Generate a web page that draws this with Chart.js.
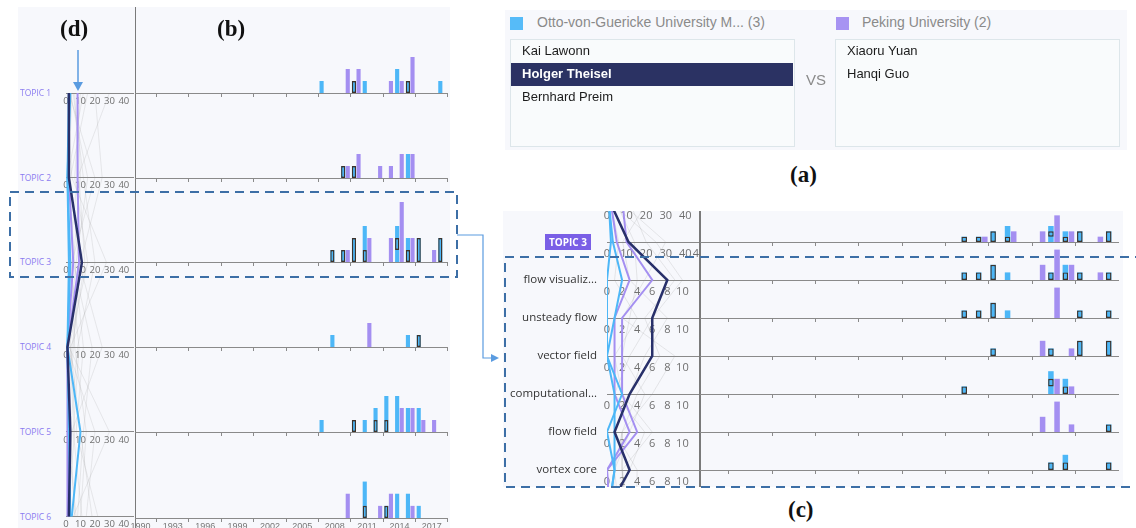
<!DOCTYPE html>
<html>
<head>
<meta charset="utf-8">
<script src="https://cdn.jsdelivr.net/npm/chart.js@4.4.1/dist/chart.umd.min.js"></script>
<style>
  body { margin: 0; width: 1136px; height: 528px; overflow: hidden; background: #fff; position: relative; font-family: "Open Sans", sans-serif; }
  .abs { position: absolute; }
  canvas { position: absolute; }
  .panel { position: absolute; background: #f7f8fc; }
  .cap { position: absolute; font-family: "Liberation Serif", serif; font-weight: bold; font-size: 23px; color: #111; }
  .topic { position: absolute; left: 20px; font-size: 8.5px; color: #8b7cf0; line-height: 12px; }
  .kw { position: absolute; right: 539px; font-size: 11.5px; color: #333; line-height: 14px; white-space: nowrap; }
  .leg { position: absolute; font-family: "Liberation Sans", Arial, sans-serif; font-size: 14px; color: #8a8a8a; }
  .box { position: absolute; border: 1px solid #dde6ea; background: #f9fbfc; }
  .name { position: absolute; font-family: "Liberation Sans", Arial, sans-serif; font-size: 13px; color: #1c1c1c; }
</style>
</head>
<body>

<!-- panel backgrounds -->
<div class="panel" style="left:18px;top:7px;width:432px;height:521px"></div>
<div class="panel" style="left:505px;top:10px;width:622px;height:140px"></div>
<div class="panel" style="left:503px;top:211px;width:620px;height:276px"></div>

<!-- axis separators -->
<div class="abs" style="left:134.5px;top:7px;width:1.5px;height:521px;background:#7a7a7a"></div>
<div class="abs" style="left:699px;top:211px;width:1.5px;height:276px;background:#7a7a7a"></div>

<!-- (b) / (d) charts -->
<canvas id="d" width="76" height="439" style="left:60px;top:90px"></canvas>
<canvas id="b0" width="319" height="89"></canvas>
<canvas id="b1" width="319" height="89"></canvas>
<canvas id="b2" width="319" height="89"></canvas>
<canvas id="b3" width="319" height="89"></canvas>
<canvas id="b4" width="319" height="89"></canvas>
<canvas id="b5" width="319" height="99"></canvas>

<!-- (c) charts -->
<div class="abs" style="left:595px;top:211px;width:110px;height:276px;overflow:hidden">
  <canvas id="c" width="100" height="320" style="left:5px;top:-8.7px"></canvas>
</div>
<canvas id="c0" width="425" height="34"></canvas>
<canvas id="c1" width="425" height="42"></canvas>
<canvas id="c2" width="425" height="42"></canvas>
<canvas id="c3" width="425" height="42"></canvas>
<canvas id="c4" width="425" height="42"></canvas>
<canvas id="c5" width="425" height="42"></canvas>
<canvas id="c6" width="425" height="42"></canvas>

<!-- (a) selection panel -->
<div class="abs" style="left:510px;top:17px;width:13px;height:13px;background:#56bbf8"></div>
<div class="leg" style="left:537px;top:14px">Otto-von-Guericke University M... (3)</div>
<div class="abs" style="left:836px;top:17px;width:13px;height:13px;background:#a793f2"></div>
<div class="leg" style="left:862px;top:14px">Peking University (2)</div>
<div class="box" style="left:510px;top:39px;width:283px;height:106px"></div>
<div class="abs" style="left:511px;top:63px;width:282px;height:23px;background:#2b3263"></div>
<div class="name" style="left:522px;top:43px">Kai Lawonn</div>
<div class="name" style="left:522px;top:66px;color:#fff;font-weight:bold">Holger Theisel</div>
<div class="name" style="left:522px;top:89px">Bernhard Preim</div>
<div class="leg" style="left:806px;top:71px;font-size:15px">VS</div>
<div class="box" style="left:835px;top:39px;width:283px;height:106px"></div>
<div class="name" style="left:847px;top:43px">Xiaoru Yuan</div>
<div class="name" style="left:847px;top:66px">Hanqi Guo</div>

<!-- captions -->
<div class="cap" style="left:60px;top:16px">(d)</div>
<div class="cap" style="left:217px;top:16px">(b)</div>
<div class="cap" style="left:790px;top:162px">(a)</div>
<div class="cap" style="left:788px;top:497px">(c)</div>

<div id="labels"></div>

<svg class="abs" width="1136" height="528" style="left:0;top:0;z-index:5">
  <rect x="10" y="192" width="447" height="85" fill="none" stroke="#3d6fa6" stroke-width="2" stroke-dasharray="9 6"/>
  <rect x="505" y="257" width="700" height="230" fill="none" stroke="#3d6fa6" stroke-width="2" stroke-dasharray="9 6"/>
  <polyline points="457,235 483,235 483,358 494,358" fill="none" stroke="#5a9be0" stroke-width="1.2"/>
  <path d="M491 354 L499 358 L491 362 Z" fill="#5a9be0"/>
  <line x1="78" y1="50" x2="78" y2="83" stroke="#5a9be0" stroke-width="1.5"/>
  <path d="M73 82 L83 82 L78 91 Z" fill="#5a9be0"/>
</svg>

<script>
// years on the (b) and (c) time axes
const years = ['1990', '1991', '1992', '1993', '1994', '1995', '1996', '1997', '1998', '1999',
  '2000', '2001', '2002', '2003', '2004', '2005', '2006', '2007', '2008', '2009',
  '2010', '2011', '2012', '2013', '2014', '2015', '2016', '2017', '2018'];

const topicNames = ['TOPIC 1', 'TOPIC 2', 'TOPIC 3', 'TOPIC 4', 'TOPIC 5', 'TOPIC 6'];
const keywordNames = ['flow visualiz...', 'unsteady flow', 'vector field', 'computational...', 'flow field', 'vortex core'];

// papers per year: [year, count]; Holger Theisel segment: [year, from, to]
const t1Otto = [[2007, 1], [2010, 1], [2011, 1], [2014, 2], [2015, 1], [2018, 1]];
const t1Holger = [[2010, 0, 1], [2015, 0, 1]];
const t1Peking = [[2009, 2], [2010, 2], [2013, 1], [2014, 1], [2015, 3]];

const t2Otto = [[2009, 1], [2010, 1], [2015, 2]];
const t2Holger = [[2009, 0, 1], [2010, 0, 1]];
const t2Peking = [[2009, 1], [2010, 2], [2012, 1], [2013, 1], [2014, 2], [2015, 2]];

const t3Otto = [[2008, 1], [2009, 1], [2010, 2], [2011, 3], [2014, 3], [2015, 2], [2016, 2], [2018, 2]];
const t3Holger = [[2008, 0, 1], [2009, 0, 1], [2010, 0, 2], [2011, 0, 1], [2014, 1, 2], [2015, 0, 1], [2016, 0, 2], [2018, 0, 2]];
const t3Peking = [[2009, 1], [2011, 2], [2013, 2], [2014, 5], [2015, 2], [2017, 1]];

const t4Otto = [[2008, 1], [2015, 1], [2016, 1]];
const t4Holger = [[2016, 0, 1]];
const t4Peking = [[2011, 2]];

const t5Otto = [[2007, 1], [2010, 1], [2011, 1], [2012, 2], [2013, 3], [2014, 3], [2015, 2], [2016, 2]];
const t5Holger = [[2010, 0, 1], [2012, 0, 1], [2013, 0, 1]];
const t5Peking = [[2014, 2], [2015, 2], [2016, 1], [2017, 1]];

const t6Otto = [[2011, 3], [2013, 1], [2014, 2], [2015, 2], [2016, 1]];
const t6Holger = [[2011, 0, 1], [2013, 0, 1]];
const t6Peking = [[2009, 2], [2012, 1], [2013, 2], [2015, 1]];

// keywords of topic 3
const fvOtto = [[2008, 1], [2009, 1], [2010, 2], [2011, 1], [2014, 1], [2015, 2], [2016, 1], [2018, 1]];
const fvHolger = [[2008, 0, 1], [2009, 0, 1], [2010, 0, 2], [2014, 0, 1], [2015, 0, 1], [2016, 0, 1], [2018, 0, 1]];
const fvPeking = [[2013, 2], [2014, 4], [2015, 2], [2017, 1]];

const ufOtto = [[2008, 1], [2009, 1], [2010, 2], [2011, 1], [2016, 1], [2018, 1]];
const ufHolger = [[2008, 0, 1], [2009, 0, 1], [2010, 0, 2], [2016, 0, 1], [2018, 0, 1]];
const ufPeking = [[2014, 4]];

const vfOtto = [[2010, 1], [2014, 1], [2016, 2], [2018, 2]];
const vfHolger = [[2010, 0, 1], [2014, 0, 1], [2016, 0, 2], [2018, 0, 2]];
const vfPeking = [[2013, 2], [2015, 1]];

const cpOtto = [[2008, 1], [2014, 3], [2015, 2]];
const cpHolger = [[2008, 0, 1], [2014, 1, 2], [2015, 0, 1]];
const cpPeking = [[2014, 2], [2015, 1]];

const ffOtto = [[2018, 1]];
const ffHolger = [[2018, 0, 1]];
const ffPeking = [[2013, 2], [2014, 4], [2015, 1]];

const vcOtto = [[2014, 1], [2015, 2], [2018, 1]];
const vcHolger = [[2014, 0, 1], [2015, 0, 1], [2018, 0, 1]];
const vcPeking = [];

// (d) parallel coordinates: papers per topic for each author
const dTicks = [0, 10, 20, 30, 40];
const dHolger = [2, 2, 11, 1, 3, 2];
const dKai = [3, 1, 3, 1, 10, 4];
const dBernhard = [2, 1, 2, 1, 2, 3];
const dXiaoru = [8, 8, 9, 1, 2, 2];
const dHanqi = [2, 2, 5, 1, 1, 1];
const dOthers = [
  [5, 12, 20, 8, 3, 6], [15, 3, 9, 25, 4, 2], [2, 20, 4, 6, 14, 10], [30, 8, 2, 3, 10, 18],
  [10, 6, 15, 2, 30, 5], [4, 2, 6, 12, 7, 22], [20, 25, 10, 5, 2, 3], [1, 4, 28, 3, 6, 1],
  [8, 10, 5, 18, 12, 8], [3, 15, 7, 1, 20, 14], [12, 1, 3, 9, 5, 11], [6, 9, 13, 4, 1, 7]
];

// (c) parallel coordinates: topic 2, topic 3, its keywords, topic 4
const cRows = ['TOPIC 2', 'TOPIC 3', 'flow visualiz...', 'unsteady flow', 'vector field', 'computational...', 'flow field', 'vortex core', 'TOPIC 4'];
const cRowMax = [47, 47, 12.2, 12.2, 12.2, 12.2, 12.2, 12.2, 47];
const cRowTicks = [[0, 10, 20, 30, 40], [0, 10, 20, 30, 40, 47], [0, 2, 4, 6, 8, 10], [0, 2, 4, 6, 8, 10],
  [0, 2, 4, 6, 8, 10], [0, 2, 4, 6, 8, 10], [0, 2, 4, 6, 8, 10], [0, 2, 4, 6, 8, 10], [0, 10, 20, 30, 40]];
const cHolger = [2, 11, 8, 6, 6, 3, 1, 3, 1];
const cKai = [1, 3, 2, 1, 0, 2, 0, 1, 1];
const cBernhard = [1, 2, 0, 0, 0, 1, 1, 1, 1];
const cXiaoru = [8, 10, 6, 2, 2, 2, 4, 0, 1];
const cHanqi = [2, 5, 3, 1, 1, 1, 3, 0, 1];
const cOthers = [
  [5, 14, 4, 3, 2, 5, 3, 1, 6], [12, 20, 9, 5, 7, 4, 2, 2, 10], [3, 25, 10, 6, 3, 1, 5, 3, 4],
  [20, 8, 3, 8, 5, 3, 1, 4, 15], [8, 30, 5, 2, 9, 6, 2, 1, 3], [2, 6, 1, 4, 1, 2, 6, 2, 8]
];

const BLUE = '#4db7f7';
const PURPLE = '#a48ff1';
const NAVY = '#28306a';
const OUTLINE = '#3e332b';

const tickMark = ctx => (ctx.type !== 'tick' || ctx.index % 3 === 2) ? '#8a8a8a' : 'rgba(0,0,0,0)';

function toPoints(list) {
  return list.map(p => ({ x: String(p[0]), y: p.length > 2 ? [p[1], p[2]] : p[1] }));
}

function place(id, left, top) {
  const el = document.getElementById(id);
  el.style.left = left + 'px';
  el.style.top = top + 'px';
  return el;
}

function barRow(el, holger, otto, peking, yMax, showYears) {
  return new Chart(el, {
    type: 'bar',
    data: {
      labels: years,
      datasets: [
        { label: 'Holger Theisel', data: toPoints(holger), stack: 'a', backgroundColor: BLUE,
          borderColor: OUTLINE, borderWidth: 1.4, borderSkipped: false },
        { label: 'Otto-von-Guericke University', data: toPoints(otto), stack: 'a', backgroundColor: BLUE },
        { label: 'Peking University', data: toPoints(peking), stack: 'b', backgroundColor: PURPLE }
      ]
    },
    options: {
      responsive: false,
      animation: false,
      events: [],
      layout: { padding: { left: 6, right: 0, top: 0, bottom: 0 } },
      datasets: { bar: { categoryPercentage: 0.85, barPercentage: 0.9 } },
      plugins: { legend: { display: false }, tooltip: { enabled: false } },
      scales: {
        x: {
          stacked: true,
          offset: true,
          border: { color: '#8a8a8a', width: 1 },
          grid: { drawOnChartArea: false, tickLength: 4, color: tickMark },
          ticks: {
            display: showYears, autoSkip: false, maxRotation: 0, minRotation: 0, padding: 0,
            color: '#777', font: { size: 9, lineHeight: 1 },
            callback: (v, i) => (i % 3 === 0 ? years[i] : '')
          }
        },
        y: { display: false, stacked: false, min: 0, max: yMax }
      }
    }
  });
}

function rowTickPlugin(rowTicks, rowMax, size, offset) {
  return {
    id: 'rowTicks',
    beforeDatasetsDraw(chart) {
      const { ctx, scales: { x, y } } = chart;
      ctx.save();
      ctx.fillStyle = '#6f6f6f';
      ctx.font = size + 'px "Open Sans"';
      ctx.textAlign = 'center';
      ctx.textBaseline = 'middle';
      chart.data.labels.forEach((lab, i) => {
        const py = y.getPixelForValue(i) + offset;
        rowTicks[i].forEach(t => ctx.fillText(String(t), x.getPixelForValue(t / rowMax[i]), py));
      });
      ctx.restore();
    }
  };
}

function parallel(el, rows, rowMax, rowTicks, series, padding, size, offset) {
  return new Chart(el, {
    type: 'line',
    data: {
      labels: rows,
      datasets: series.map(s => ({
        label: s.name,
        data: s.values.map((v, i) => v / rowMax[i]),
        borderColor: s.color,
        borderWidth: s.width,
        pointRadius: 0,
        tension: 0
      }))
    },
    options: {
      indexAxis: 'y',
      responsive: false,
      animation: false,
      events: [],
      layout: { padding: padding },
      plugins: { legend: { display: false }, tooltip: { enabled: false } },
      scales: {
        x: { type: 'linear', display: false, min: 0, max: 1 },
        y: { type: 'category', offset: false, ticks: { display: false },
             grid: { color: '#8a8a8a', drawTicks: false }, border: { display: false } }
      }
    },
    plugins: [rowTickPlugin(rowTicks, rowMax, size, offset)]
  });
}

// ---- (b) topic rows ----
const topicData = [
  [t1Holger, t1Otto, t1Peking], [t2Holger, t2Otto, t2Peking], [t3Holger, t3Otto, t3Peking],
  [t4Holger, t4Otto, t4Peking], [t5Holger, t5Otto, t5Peking], [t6Holger, t6Otto, t6Peking]
];
const labelsDiv = document.getElementById('labels');
topicData.forEach((d, i) => {
  const base = 93 + 84.7 * i;
  const el = place('b' + i, 129, base - 85);
  barRow(el, d[0], d[1], d[2], 85 / 12, i === 5);
  const lab = document.createElement('div');
  lab.className = 'topic';
  lab.style.top = (base - 6) + 'px';
  lab.textContent = topicNames[i];
  labelsDiv.appendChild(lab);
});

// ---- (d) parallel coordinates ----
const dSeries = [
  { name: 'Holger Theisel', values: dHolger, color: NAVY, width: 2.5 },
  { name: 'Kai Lawonn', values: dKai, color: BLUE, width: 2 },
  { name: 'Bernhard Preim', values: dBernhard, color: BLUE, width: 2 },
  { name: 'Xiaoru Yuan', values: dXiaoru, color: PURPLE, width: 2 },
  { name: 'Hanqi Guo', values: dHanqi, color: PURPLE, width: 2 }
].concat(dOthers.map(v => ({ name: '', values: v, color: 'rgba(150,150,150,0.18)', width: 1 })));
parallel(document.getElementById('d'), topicNames, [47, 47, 47, 47, 47, 47], topicNames.map(() => dTicks),
  dSeries, { left: 6, right: 2, top: 3, bottom: 12.5 }, 9.5, 8);

// ---- (c) topic 3 and its keywords ----
barRow(place('c0', 694, 212), t3Holger, t3Otto, t3Peking, 30 / 5.33, false);
const kwData = [
  [fvHolger, fvOtto, fvPeking], [ufHolger, ufOtto, ufPeking], [vfHolger, vfOtto, vfPeking],
  [cpHolger, cpOtto, cpPeking], [ffHolger, ffOtto, ffPeking], [vcHolger, vcOtto, vcPeking]
];
kwData.forEach((d, i) => {
  const base = 280.3 + 38 * i;
  barRow(place('c' + (i + 1), 694, base - 38), d[0], d[1], d[2], 5, false);
  const lab = document.createElement('div');
  lab.className = 'kw';
  lab.style.top = (base - 8) + 'px';
  lab.textContent = keywordNames[i];
  labelsDiv.appendChild(lab);
});
const t3Box = document.createElement('div');
t3Box.className = 'abs';
t3Box.style.cssText = 'left:545px;top:234px;width:46px;height:16px;background:#7a5fe6;color:#fff;font-size:10px;font-weight:bold;line-height:16px;text-align:center';
t3Box.textContent = 'TOPIC 3';
labelsDiv.appendChild(t3Box);

const cSeries = [
  { name: 'Holger Theisel', values: cHolger, color: NAVY, width: 2.5 },
  { name: 'Kai Lawonn', values: cKai, color: BLUE, width: 2 },
  { name: 'Bernhard Preim', values: cBernhard, color: BLUE, width: 2 },
  { name: 'Xiaoru Yuan', values: cXiaoru, color: PURPLE, width: 2 },
  { name: 'Hanqi Guo', values: cHanqi, color: PURPLE, width: 2 }
].concat(cOthers.map(v => ({ name: '', values: v, color: 'rgba(150,150,150,0.2)', width: 1 })));
parallel(document.getElementById('c'), cRows, cRowMax, cRowTicks, cSeries,
  { left: 7, right: 1, top: 2, bottom: 14 }, 11, 12);
</script>
</body>
</html>
